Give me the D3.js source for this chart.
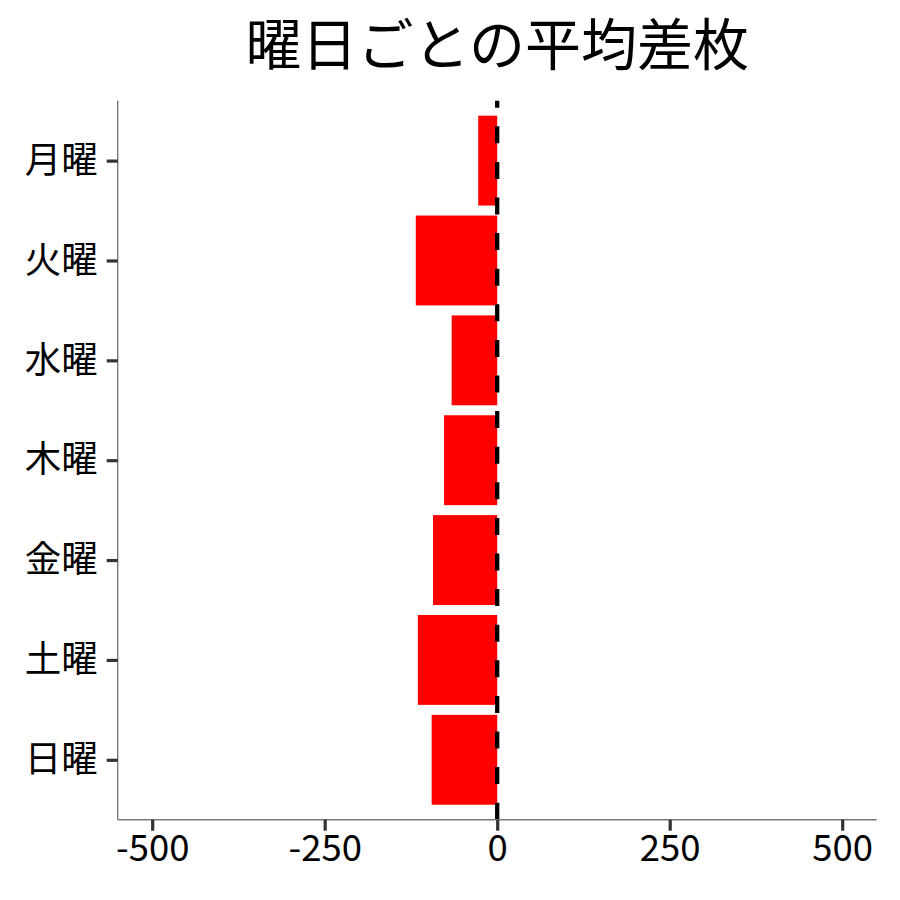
<!DOCTYPE html>
<html>
<head>
<meta charset="utf-8">
<script src="https://cdn.jsdelivr.net/npm/d3@7"></script>
<style>
  html, body { margin: 0; padding: 0; background: #fff; }
  svg { display: block; font-family: "Noto Sans CJK JP", "Noto Sans", sans-serif; }
</style>
</head>
<body>
<div id="chart"></div>
<script>
const days = ["月曜", "火曜", "水曜", "木曜", "金曜", "土曜", "日曜"];
const avgDiff = [-27.5, -118, -66, -77, -93, -115, -95];
const xTicks = [-500, -250, 0, 250, 500];
const xDomain = [-550, 550];

const width = 900, height = 900;
const margin = { top: 100.7, right: 23.3, bottom: 80.3, left: 117.7 };
const innerW = width - margin.left - margin.right;
const innerH = height - margin.top - margin.bottom;

const svg = d3.select("#chart")
  .append("svg")
  .attr("width", width)
  .attr("height", height);

const g = svg.append("g")
  .attr("transform", `translate(${margin.left},${margin.top})`);

const x = d3.scaleLinear().domain(xDomain).range([0, innerW]);

// ggplot-style discrete axis: 0.6 unit padding each side
const step = innerH / (days.length - 1 + 1.2);
const y = d3.scalePoint()
  .domain(days)
  .range([step * 0.6, innerH - step * 0.6]);
const barH = step * 0.9;

const data = days.map((d, i) => ({ day: d, value: avgDiff[i] }));

g.selectAll("rect.bar")
  .data(data)
  .join("rect")
  .attr("class", "bar")
  .attr("x", d => x(Math.min(0, d.value)))
  .attr("width", d => Math.abs(x(d.value) - x(0)))
  .attr("y", d => y(d.day) - barH / 2)
  .attr("height", barH)
  .attr("fill", "#ff0000");

// zero reference line, dashes run from the bottom up
g.append("line")
  .attr("x1", x(0)).attr("x2", x(0))
  .attr("y1", innerH).attr("y2", 0)
  .attr("stroke", "#000")
  .attr("stroke-width", 4.3)
  .attr("stroke-dasharray", "17,18.6");

// axes
const xAxis = g.append("g")
  .attr("transform", `translate(0,${innerH})`)
  .call(d3.axisBottom(x).tickValues(xTicks).tickSize(11).tickPadding(4)
    .tickFormat(d => String(d)));

const yAxis = g.append("g")
  .call(d3.axisLeft(y).tickSize(11).tickPadding(9));

[xAxis, yAxis].forEach(a => {
  a.select(".domain").attr("stroke", "#7a7a7a").attr("stroke-width", 1.4);
  a.selectAll(".tick line").attr("stroke", "#333").attr("stroke-width", 3.2);
  a.selectAll(".tick text")
    .attr("fill", "#000")
    .attr("font-size", 36.5)
    .attr("font-family", "Noto Sans CJK JP");
});
xAxis.select(".domain").attr("d", `M0,0H${innerW}`);
yAxis.select(".domain").attr("d", `M0,0V${innerH}`);

svg.append("text")
  .attr("x", margin.left + innerW / 2)
  .attr("y", 65)
  .attr("text-anchor", "middle")
  .attr("font-size", 56)
  .attr("font-family", "Noto Sans CJK JP")
  .attr("fill", "#000")
  .text("曜日ごとの平均差枚");
</script>
</body>
</html>
